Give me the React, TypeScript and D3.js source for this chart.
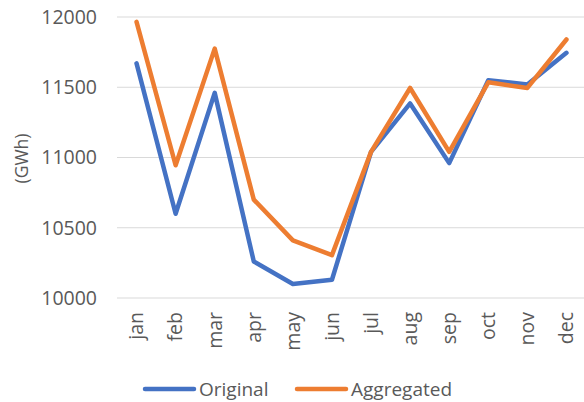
import React from "react";
import * as d3 from "d3";

const months = ["jan", "feb", "mar", "apr", "may", "jun", "jul", "aug", "sep", "oct", "nov", "dec"];
const original = [11670, 10600, 11460, 10260, 10100, 10130, 11040, 11385, 10960, 11550, 11520, 11745];
const aggregated = [11965, 10945, 11775, 10700, 10410, 10305, 11040, 11495, 11040, 11535, 11495, 11840];
const yTicks = [10000, 10500, 11000, 11500, 12000];

const width = 584;
const height = 402;
const margin = { top: 17, right: -2, bottom: 104, left: 117 };
const font = "'Open Sans', sans-serif";
const textColor = "#595959";

const App = () => {
    const x = d3.scaleBand()
        .domain(months)
        .range([margin.left, width - margin.right]);

    const y = d3.scaleLinear()
        .domain([10000, 12000])
        .range([height - margin.bottom, margin.top]);

    const line = d3.line<number>()
        .x((d, i) => x(months[i])! + x.bandwidth() / 2)
        .y(d => y(d));

    const series = [
        { name: "Original", values: original, color: "#4472C4" },
        { name: "Aggregated", values: aggregated, color: "#ED7D31" },
    ];

    return (
        <svg width={width} height={height}
            style={{ position: "absolute", left: 0, top: 0, background: "#fff" }}
            fontFamily={font}>
            {/* grid */}
            {yTicks.map(t => (
                <line key={t} x1={margin.left} x2={width - margin.right}
                    y1={y(t)} y2={y(t)} stroke="#D9D9D9" strokeWidth={1} />
            ))}
            {yTicks.map(t => (
                <text key={"l" + t} x={97} y={y(t)} dy="0.35em" textAnchor="end"
                    fontSize={19.5} fill={textColor}>{t}</text>
            ))}
            <text transform={`translate(22, ${y(11000) + 1}) rotate(-90)`}
                textAnchor="middle" dy="0.35em" fontSize={17.5} fill={textColor}>(GWh)</text>

            {months.map(m => (
                <text key={m}
                    transform={`translate(${x(m)! + x.bandwidth() / 2}, 312) rotate(-90)`}
                    textAnchor="end" dy="0.35em" fontSize={19.5} fill={textColor}>{m}</text>
            ))}

            {series.map(s => (
                <path key={s.name} d={line(s.values)!} fill="none" stroke={s.color}
                    strokeWidth={4.5} strokeLinejoin="round" strokeLinecap="round" />
            ))}

            {/* legend */}
            <g>
                <line x1={145} x2={194} y1={389} y2={389} stroke="#4472C4" strokeWidth={4.5} strokeLinecap="round" />
                <text x={199} y={389} dy="0.35em" fontSize={19} fill={textColor}>Original</text>
                <line x1={297} x2={346} y1={389} y2={389} stroke="#ED7D31" strokeWidth={4.5} strokeLinecap="round" />
                <text x={351} y={389} dy="0.35em" fontSize={19} fill={textColor}>Aggregated</text>
            </g>
        </svg>
    );
};

export default App;
